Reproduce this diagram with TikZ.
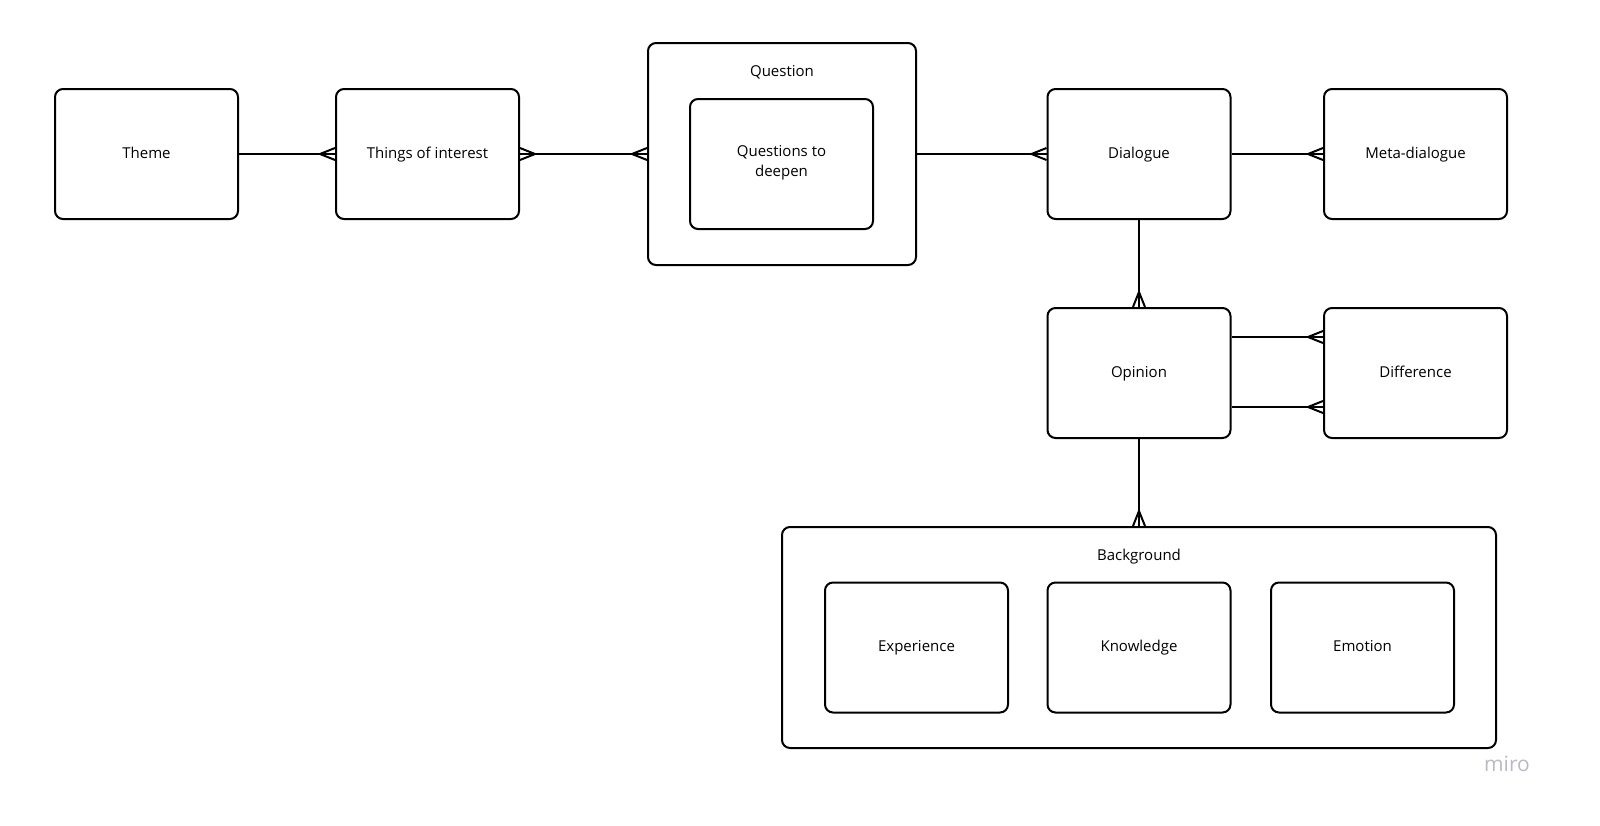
\documentclass[tikz,border=0pt]{standalone}
\usepackage{fontspec}
\setmainfont{Open Sans}
\usepackage{tikz}

% crow's foot end
\pgfdeclarearrow{
  name = crow,
  setup code = {
    \pgfarrowssettipend{0pt}
    \pgfarrowssetlineend{0pt}
    \pgfarrowssetbackend{-15pt}
    \pgfarrowssetvisualbackend{-15pt}
    \pgfarrowshullpoint{0pt}{6pt}
    \pgfarrowshullpoint{0pt}{-6pt}
    \pgfarrowshullpoint{-15pt}{0pt}
  },
  drawing code = {
    \pgfsetroundjoin
    \pgfpathmoveto{\pgfqpoint{0pt}{6pt}}
    \pgfpathlineto{\pgfqpoint{-15pt}{0pt}}
    \pgfpathlineto{\pgfqpoint{0pt}{-6pt}}
    \pgfusepathqstroke
  }
}

\begin{document}
\begin{tikzpicture}[x=1pt,y=-1pt,
  every node/.style={font=\fontsize{15}{20}\selectfont},
  entity/.style={draw,line width=2pt,rounded corners=8pt,
    minimum width=183pt,minimum height=130pt,align=center,
    execute at begin node=\strut},
  group/.style={draw,line width=2pt,rounded corners=8pt},
  link/.style={line width=2pt}]
\useasboundingbox (0,0) rectangle (1600,825);

\node[entity] (theme) at (146.5,154) {Theme};
\node[entity] (things) at (427.5,154) {Things of interest};

\node[group,minimum width=268pt,minimum height=222pt] (question) at (782,154) {};
\node (qtitle) at (782,72) {\strut Question};
\node[entity] (deepen) at (781.5,164) {Questions to\\deepen};

\node[entity] (dialogue) at (1139,154) {Dialogue};
\node[entity] (meta) at (1415.5,154) {Meta-dialogue};
\node[entity] (opinion) at (1139,373) {Opinion};
\node[entity] (difference) at (1415.5,373) {Difference};

\node[group,minimum width=714pt,minimum height=221pt] (background) at (1139,637.5) {};
\node (btitle) at (1139,556) {\strut Background};
\node[entity] (experience) at (916.5,647.5) {Experience};
\node[entity] (knowledge) at (1139,647.5) {Knowledge};
\node[entity] (emotion) at (1362.5,647.5) {Emotion};

\draw[link,-crow] (theme.east) -- (things.west);
\draw[link,crow-crow] (things.east) -- (question.west);
\draw[link,-crow] (question.east) -- (dialogue.west);
\draw[link,-crow] (dialogue.east) -- (meta.west);
\draw[link,-crow] (dialogue.south) -- (opinion.north);
\draw[link,-crow] ([yshift=36pt]opinion.east) -- ([yshift=36pt]difference.west);
\draw[link,-crow] ([yshift=-34pt]opinion.east) -- ([yshift=-34pt]difference.west);
\draw[link,-crow] (opinion.south) -- (background.north);

\node[text=blue!10!gray!50,font=\fontsize{21}{24}\selectfont] (miro) at (1507,764) {miro};
\end{tikzpicture}
\end{document}
